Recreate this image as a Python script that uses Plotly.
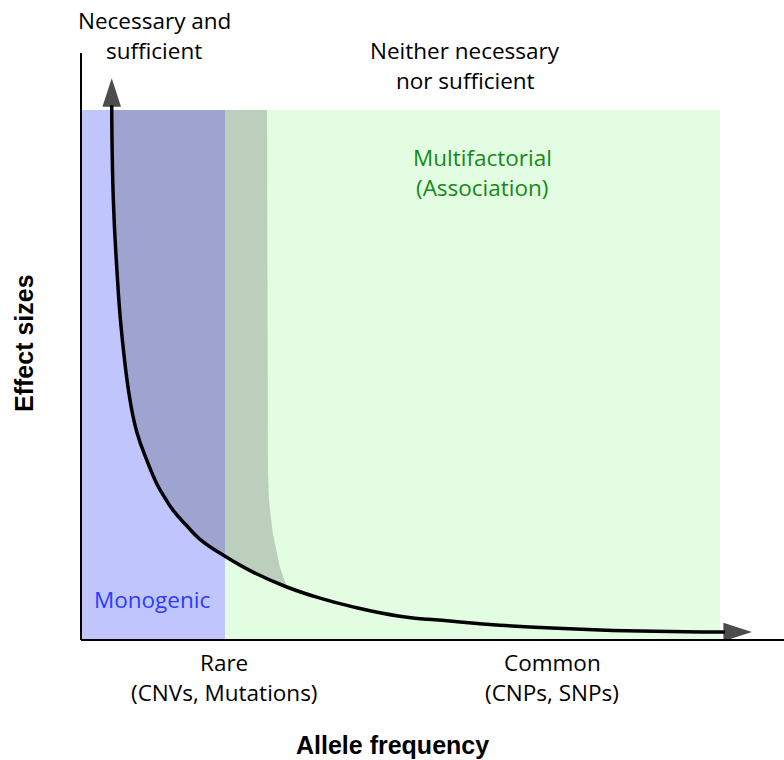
import plotly.graph_objects as go

# Figure size and where data (0..1 in both axes) falls on the page, in pixels
W, H = 784, 760
X0_PX, X1_PX = 82, 720
Y0_PX, Y1_PX = 640, 110

# Effect-size curve (allele frequency -> effect size)
curve_freq = [0.0466, 0.0491, 0.0544, 0.0622, 0.0752, 0.0862, 0.1014, 0.1176, 0.1301,
              0.1426, 0.1646, 0.185, 0.2241, 0.268, 0.321, 0.373, 0.420, 0.498, 0.577,
              0.655, 0.812, 1.0]
curve_effect = [1.0, 0.830, 0.704, 0.579, 0.453, 0.391, 0.340, 0.294, 0.268,
                0.245, 0.215, 0.190, 0.158, 0.128, 0.100, 0.079, 0.064, 0.045, 0.036,
                0.028, 0.019, 0.015]

# arrow tips at both ends of the curve
tip_top = (0.0466, 1.06)
tip_right = (1.05, 0.015)

# region limits
rare_limit = 0.2241          # monogenic / rare band ends here
overlap_edge_freq = [0.290, 0.2915, 0.293, 0.299, 0.310, 0.321]
overlap_edge_effect = [1.0, 0.321, 0.264, 0.202, 0.138, 0.100]

BLUE = "#c0c6fd"
DARK_BLUE = "#9ea3d0"
GREY_GREEN = "#bccfbd"
LIGHT_GREEN = "#e3fde3"


def px_x(px):
    return (px - X0_PX) / (X1_PX - X0_PX)


def px_y(py):
    return (Y0_PX - py) / (Y0_PX - Y1_PX)


fig = go.Figure()

# dark band: above the curve, inside the rare region
dark_x = [f for f in curve_freq if f <= rare_limit]
dark_y = curve_effect[:len(dark_x)]
fig.add_trace(go.Scatter(
    x=dark_x + [rare_limit, dark_x[0]], y=dark_y + [1.0, 1.0],
    fill="toself", fillcolor=DARK_BLUE, mode="none", hoverinfo="skip"))

# grey-green overlap: above the curve, between rare limit and overlap edge
i0 = curve_freq.index(rare_limit)
i1 = curve_freq.index(overlap_edge_freq[-1])
ov_x = [rare_limit] + overlap_edge_freq + curve_freq[i1 - 1:i0 - 1:-1]
ov_y = [1.0] + overlap_edge_effect + curve_effect[i1 - 1:i0 - 1:-1]
fig.add_trace(go.Scatter(
    x=ov_x, y=ov_y, fill="toself", fillcolor=GREY_GREEN, mode="none", hoverinfo="skip"))

# the curve itself
fig.add_trace(go.Scatter(
    x=curve_freq, y=curve_effect, mode="lines",
    line=dict(color="black", width=3.5, shape="spline", smoothing=1.3), hoverinfo="skip"))

# arrow heads
for (fx, fy), (tx, ty) in [((curve_freq[0], curve_effect[0]), tip_top),
                           ((curve_freq[-1], curve_effect[-1]), tip_right)]:
    fig.add_trace(go.Scatter(
        x=[fx, tx], y=[fy, ty], mode="lines+markers",
        line=dict(color="black", width=3.5),
        marker=dict(symbol=["circle", "arrow"], size=[0, 30], angleref="previous",
                    color="black", line=dict(width=0)),
        hoverinfo="skip"))

# background bands
fig.add_shape(type="rect", x0=0, x1=rare_limit, y0=0, y1=1, fillcolor=BLUE,
              line_width=0, layer="below")
fig.add_shape(type="rect", x0=rare_limit, x1=1, y0=0, y1=1, fillcolor=LIGHT_GREEN,
              line_width=0, layer="below")

# axis lines
fig.add_shape(type="line", x0=px_x(81), x1=px_x(81), y0=px_y(53), y1=0,
              line=dict(color="black", width=2))
fig.add_shape(type="line", x0=px_x(81), x1=px_x(W), y0=0, y1=0,
              line=dict(color="black", width=2))

FONT = "Open Sans"
labels = [
    ("Necessary and", 154, 20, "black"),
    ("sufficient", 154, 50, "black"),
    ("Neither necessary", 465, 50, "black"),
    ("nor sufficient", 465, 80, "black"),
    ("Multifactorial", 482, 157, "#138a13"),
    ("(Association)", 482, 187, "#138a13"),
    ("Monogenic", 152, 599, "#2b3bff"),
    ("Rare", 224, 662, "black"),
    ("(CNVs, Mutations)", 224, 692, "black"),
    ("Common", 552, 662, "black"),
    ("(CNPs, SNPs)", 552, 692, "black"),
]
for text, x, y, color in labels:
    fig.add_annotation(x=px_x(x), y=px_y(y), text=text, showarrow=False,
                       xanchor="center", yanchor="middle",
                       font=dict(family=FONT, size=22.5, color=color))

fig.add_annotation(x=px_x(392), y=px_y(745), text="<b>Allele frequency</b>", showarrow=False,
                   font=dict(family="Liberation Sans, Arial", size=25, color="black"))
fig.add_annotation(x=px_x(24), y=px_y(343), text="<b>Effect sizes</b>", showarrow=False,
                   textangle=-90,
                   font=dict(family="Liberation Sans, Arial", size=25, color="black"))

fig.update_xaxes(range=[px_x(0), px_x(W)], visible=False, fixedrange=True)
fig.update_yaxes(range=[px_y(H), px_y(0)], visible=False, fixedrange=True)
fig.update_layout(
    width=W, height=H, margin=dict(l=0, r=0, t=0, b=0),
    plot_bgcolor="white", paper_bgcolor="white", showlegend=False,
)

# drop the page's default body margin so the figure sits at the window's corner
fig.write_html("out.html", config={"displayModeBar": False},
               post_script="document.body.style.margin='0';")
